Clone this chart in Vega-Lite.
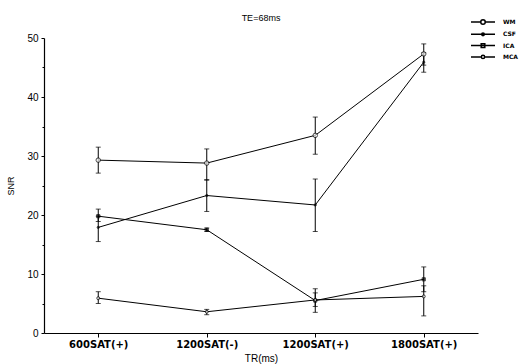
{
  "$schema": "https://vega.github.io/schema/vega-lite/v6.json",
  "width": 434,
  "height": 295,
  "autosize": {"type": "none"},
  "padding": {"left": 44, "top": 38, "right": 42, "bottom": 31},
  "title": {"text": "TE=68ms", "fontSize": 9, "font": "Liberation Sans", "fontWeight": "normal", "color": "black", "anchor": "middle", "offset": -5},
  "config": {
    "view": {"stroke": null},
    "font": "Liberation Sans",
    "axis": {"domainColor": "black", "tickColor": "black", "labelColor": "black", "titleColor": "black", "grid": false, "labelFont": "Liberation Sans", "titleFont": "Liberation Sans", "titleFontWeight": "normal", "domainWidth": 1.2}
  },
  "data": {"values": [
    {"tr": "600SAT(+)", "series": "WM", "snr": 29.3, "lo": 27.1, "hi": 31.5},
    {"tr": "1200SAT(-)", "series": "WM", "snr": 28.8, "lo": 25.9, "hi": 31.2},
    {"tr": "1200SAT(+)", "series": "WM", "snr": 33.5, "lo": 30.3, "hi": 36.6},
    {"tr": "1800SAT(+)", "series": "WM", "snr": 47.3, "lo": 45.4, "hi": 49.0},
    {"tr": "600SAT(+)", "series": "CSF", "snr": 17.9, "lo": 15.5, "hi": 19.8},
    {"tr": "1200SAT(-)", "series": "CSF", "snr": 23.3, "lo": 20.6, "hi": 26.0},
    {"tr": "1200SAT(+)", "series": "CSF", "snr": 21.7, "lo": 17.2, "hi": 26.1},
    {"tr": "1800SAT(+)", "series": "CSF", "snr": 45.9, "lo": 44.2, "hi": 47.5},
    {"tr": "600SAT(+)", "series": "ICA", "snr": 19.8, "lo": 18.9, "hi": 21.0},
    {"tr": "1200SAT(-)", "series": "ICA", "snr": 17.5, "lo": 17.2, "hi": 17.8},
    {"tr": "1200SAT(+)", "series": "ICA", "snr": 5.5, "lo": 3.5, "hi": 7.5},
    {"tr": "1800SAT(+)", "series": "ICA", "snr": 9.1, "lo": 7.0, "hi": 11.2},
    {"tr": "600SAT(+)", "series": "MCA", "snr": 5.9, "lo": 5.0, "hi": 7.0},
    {"tr": "1200SAT(-)", "series": "MCA", "snr": 3.6, "lo": 3.1, "hi": 4.0},
    {"tr": "1200SAT(+)", "series": "MCA", "snr": 5.6, "lo": 4.5, "hi": 6.8},
    {"tr": "1800SAT(+)", "series": "MCA", "snr": 6.2, "lo": 2.9, "hi": 8.0}
  ]},
  "encoding": {
    "x": {"field": "tr", "type": "ordinal", "sort": ["600SAT(+)", "1200SAT(-)", "1200SAT(+)", "1800SAT(+)"],
      "scale": {"type": "point", "padding": 0.5},
      "axis": {"title": "TR(ms)", "labelAngle": 0, "labelFont": "DejaVu Sans", "labelFontSize": 10, "labelFontWeight": "bold", "titleFontSize": 10, "tickSize": 4, "labelPadding": 2, "titlePadding": 4}}
  },
  "layer": [
    {
      "mark": {"type": "errorbar", "color": "black", "thickness": 1, "ticks": {"size": 5, "color": "black"}},
      "encoding": {
        "y": {"field": "lo", "type": "quantitative", "scale": {"domain": [0, 50]}, "axis": null},
        "y2": {"field": "hi"}
      }
    },
    {
      "mark": {"type": "line", "color": "black", "strokeWidth": 1},
      "encoding": {
        "y": {"field": "snr", "type": "quantitative", "scale": {"domain": [0, 50]},
          "axis": {"title": "SNR", "values": [0, 10, 20, 30, 40, 50], "tickSize": 3, "labelFontSize": 10, "labelPadding": 3, "titleFontSize": 9, "titlePadding": 11}},
        "detail": {"field": "series"}
      }
    },
    {
      "transform": [{"filter": "datum.series === 'WM'"}],
      "mark": {"type": "point", "shape": "circle", "filled": true, "fill": "white", "stroke": "black", "strokeWidth": 1, "size": 20},
      "encoding": {"y": {"field": "snr", "type": "quantitative", "axis": null}}
    },
    {
      "transform": [{"filter": "datum.series === 'CSF'"}],
      "mark": {"type": "point", "shape": "circle", "filled": true, "fill": "black", "stroke": "black", "strokeWidth": 1, "size": 5},
      "encoding": {"y": {"field": "snr", "type": "quantitative", "axis": null}}
    },
    {
      "transform": [{"filter": "datum.series === 'ICA'"}],
      "mark": {"type": "point", "shape": "square", "filled": true, "fill": "black", "stroke": "black", "strokeWidth": 1, "size": 10},
      "encoding": {"y": {"field": "snr", "type": "quantitative", "axis": null}}
    },
    {
      "transform": [{"filter": "datum.series === 'MCA'"}],
      "mark": {"type": "point", "shape": "circle", "filled": true, "fill": "white", "stroke": "black", "strokeWidth": 1, "size": 9},
      "encoding": {"y": {"field": "snr", "type": "quantitative", "axis": null}}
    },
    {
      "mark": {"type": "point", "filled": true, "stroke": "black", "strokeWidth": 1, "opacity": 0, "size": 36},
      "encoding": {
        "y": {"field": "snr", "type": "quantitative",
          "axis": {"orient": "left", "values": [5, 15, 25, 35, 45], "labels": false, "tickSize": 2, "domain": false, "title": null}},
        "shape": {"field": "series", "title": null, "scale": {"domain": ["WM", "CSF", "ICA", "MCA"], "range": [
          "M-4,0L-0.75,0M0.75,0L4,0M-0.75,0A0.75,0.75,0,1,1,0.75,0A0.75,0.75,0,1,1,-0.75,0Z",
          "M-4,0L4,0M-0.45,0A0.45,0.45,0,1,1,0.45,0A0.45,0.45,0,1,1,-0.45,0Z",
          "M-4,0L4,0M-0.6,-0.6L0.6,-0.6L0.6,0.6L-0.6,0.6Z",
          "M-4,0L-0.55,0M0.55,0L4,0M-0.55,0A0.55,0.55,0,1,1,0.55,0A0.55,0.55,0,1,1,-0.55,0Z"
        ]},
          "legend": {"orient": "none", "legendX": 435, "legendY": -20, "symbolSize": 36, "labelOffset": 16, "labelFont": "DejaVu Sans", "labelFontSize": 6, "labelFontWeight": "bold", "labelColor": "black", "rowPadding": 1.3, "padding": 0,
            "encode": {"symbols": {"update": {"stroke": {"value": "black"}, "strokeWidth": {"value": 1}, "opacity": {"value": 1}, "size": {"value": 36}}}}}},
        "fill": {"field": "series", "title": null, "scale": {"domain": ["WM", "CSF", "ICA", "MCA"], "range": ["white", "black", "black", "white"]}}
      }
    }
  ],
  "resolve": {"axis": {"y": "independent"}}
}
